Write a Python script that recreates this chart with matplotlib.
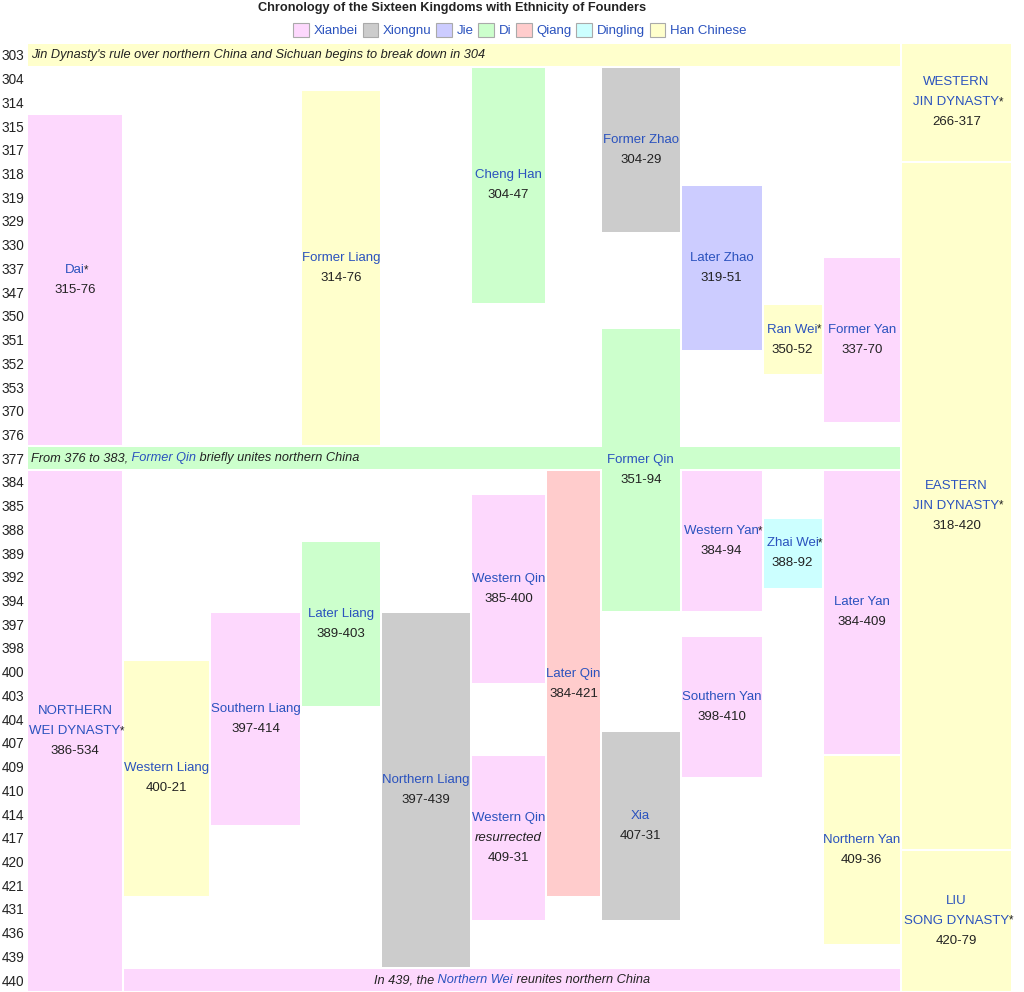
import numpy as np
import matplotlib
matplotlib.use("Agg")
import matplotlib.pyplot as plt
from matplotlib.patches import Rectangle, Patch
from matplotlib.offsetbox import TextArea, HPacker, AnnotationBbox

plt.rcParams['font.family'] = ['Liberation Sans', 'DejaVu Sans']

# row labels (one row per year listed)
years = [303, 304, 314, 315, 317, 318, 319, 329, 330, 337, 347, 350, 351, 352,
         353, 370, 376, 377, 384, 385, 388, 389, 392, 394, 397, 398, 400, 403,
         404, 407, 409, 410, 414, 417, 420, 421, 431, 436, 439, 440]

ethnic_names = ["Xianbei", "Xiongnu", "Jie", "Di", "Qiang", "Dingling", "Han Chinese"]
ethnic_colors = ["#fdd8fd", "#cccccc", "#ccccff", "#ccffcc", "#ffcccc", "#ccffff", "#ffffcc"]

# kingdoms
k_names = ["WESTERN\nJIN DYNASTY*", "EASTERN\nJIN DYNASTY*", "LIU\nSONG DYNASTY*",
           "Dai*", "NORTHERN\nWEI DYNASTY*", "Western Liang", "Southern Liang",
           "Former Liang", "Later Liang", "Northern Liang", "Cheng Han", "Western Qin",
           "Western Qin", "Later Qin", "Former Zhao", "Former Qin", "Xia", "Later Zhao",
           "Western Yan*", "Southern Yan", "Ran Wei*", "Zhai Wei*", "Former Yan",
           "Later Yan", "Northern Yan"]
k_notes = ["", "", "", "", "", "", "", "", "", "", "", "",
           "resurrected", "", "", "", "", "", "", "", "", "", "", "", ""]
k_dates = ["266-317", "318-420", "420-79", "315-76", "386-534", "400-21", "397-414",
           "314-76", "389-403", "397-439", "304-47", "385-400", "409-31", "384-421",
           "304-29", "351-94", "407-31", "319-51", "384-94", "398-410", "350-52",
           "388-92", "337-70", "384-409", "409-36"]
k_from = [303, 318, 420, 315, 384, 400, 397, 314, 389, 397, 304, 385, 409, 384,
          304, 351, 407, 319, 384, 398, 350, 388, 337, 384, 409]
k_to = [317, 417, 440, 376, 440, 421, 414, 376, 403, 439, 347, 400, 431, 421,
        329, 394, 431, 351, 394, 409, 352, 392, 370, 407, 436]
k_col = [12, 12, 12, 1, 1, 2, 3, 4, 4, 5, 6, 6, 6, 7, 8, 8, 8, 9, 9, 9, 10, 10, 11, 11, 11]
k_ethnic = ["Han Chinese", "Han Chinese", "Han Chinese", "Xianbei", "Xianbei",
            "Han Chinese", "Xianbei", "Han Chinese", "Di", "Xiongnu", "Di", "Xianbei",
            "Xianbei", "Qiang", "Xiongnu", "Di", "Xiongnu", "Jie", "Xianbei", "Xianbei",
            "Han Chinese", "Dingling", "Xianbei", "Xianbei", "Han Chinese"]

# event bands: (text, is_link) parts
band_parts = [
    [("Jin Dynasty's rule over northern China and Sichuan begins to break down in 304", False)],
    [("From 376 to 383,", False), (" Former Qin", True), (" briefly unites northern China", False)],
    [("In 439, the", False), (" Northern Wei", True), (" reunites northern China", False)],
]
band_year = [303, 377, 440]
band_cols = [(1, 11), (1, 11), (2, 11)]
band_ethnic = ["Han Chinese", "Di", "Xianbei"]
band_align = ["left", "left", "center"]

# layout
W, H = 1024, 992
COL_EDGES = [27, 123, 210, 301, 381, 471, 546, 601, 680.5, 762.5, 822.5, 901, 1012]
TOP = 43
ROW_PX = (H - TOP) / len(years)
DY = 1.0 / ROW_PX
LINE = 20.0 / ROW_PX
FS = 9.5
BLUE = "#2a52be"
DARK = "#222222"
col_of = dict(zip(ethnic_names, ethnic_colors))

fig = plt.figure(figsize=(W / 100, H / 100), dpi=100)
ax = fig.add_axes([27 / W, 0, (1012 - 27) / W, (H - TOP) / H])
ax.set_xlim(27, 1012)
ax.set_ylim(len(years), 0)
for s in ax.spines.values():
    s.set_visible(False)
ax.set_xticks([])
ax.set_yticks(np.arange(len(years)) + 0.5, labels=[str(y) for y in years])
ax.tick_params(axis='y', length=0, pad=2, labelsize=9.8, labelcolor=DARK)


def cell(c0, c1, r0, r1, color):
    x0 = COL_EDGES[c0 - 1] + 1
    x1 = COL_EDGES[c1] - 1
    ax.add_patch(Rectangle((x0, r0 + DY), x1 - x0, r1 - r0 - 2 * DY,
                           facecolor=color, lw=0))


# bands
for parts, yr, (c0, c1), eth, al in zip(band_parts, band_year, band_cols, band_ethnic, band_align):
    r = years.index(yr)
    cell(c0, c1, r, r + 1, col_of[eth])
    boxes = [TextArea(t, textprops=dict(color=BLUE if link else DARK, style='italic',
                                        fontsize=9.2)) for t, link in parts]
    pack = HPacker(children=boxes, pad=0, sep=0, align='baseline')
    if al == "left":
        xy, ba = (COL_EDGES[c0 - 1] + 4, r + 0.5), (0, 0.5)
    else:
        xy, ba = ((COL_EDGES[c0 - 1] + COL_EDGES[c1]) / 2, r + 0.5), (0.5, 0.5)
    ax.add_artist(AnnotationBbox(pack, xy, xycoords='data', frameon=False,
                                 box_alignment=ba, pad=0))

# kingdoms
for name, note, dates, y0, y1, c, eth in zip(k_names, k_notes, k_dates, k_from, k_to, k_col, k_ethnic):
    r0 = years.index(y0)
    r1 = years.index(y1) + 1
    cell(c, c, r0, r1, col_of[eth])
    star = name.endswith("*")
    lines = [(ln, BLUE, 'normal') for ln in name.rstrip("*").split("\n")]
    if note:
        lines.append((note, DARK, 'italic'))
    lines.append((dates, DARK, 'normal'))
    xc = (COL_EDGES[c - 1] + COL_EDGES[c]) / 2
    yc = (r0 + r1) / 2
    n = len(lines)
    last_name = None
    for i, (txt, colr, sty) in enumerate(lines):
        t = ax.text(xc, yc + (i - (n - 1) / 2) * LINE, txt, ha='center', va='center',
                    color=colr, style=sty, fontsize=FS)
        if colr == BLUE:
            last_name = t
    if star:
        ax.annotate("*", xy=(1, 1), xycoords=last_name, xytext=(-0.5, 0),
                    textcoords='offset points', ha='left', va='top',
                    color=DARK, fontsize=8.3)

# title and legend
fig.text(452 / W, 1 - 8 / H, "Chronology of the Sixteen Kingdoms with Ethnicity of Founders",
         ha='center', va='center', fontsize=9.2, weight='bold', color=DARK)
handles = [Patch(facecolor=c, edgecolor="#aaaaaa", lw=0.8) for c in ethnic_colors]
fig.legend(handles, ethnic_names, loc='center', bbox_to_anchor=(520 / W, 1 - 30 / H),
           ncol=7, frameon=False, fontsize=FS, labelcolor=BLUE, handlelength=1.2,
           handleheight=1.3, columnspacing=0.35, handletextpad=0.35, borderpad=0)

fig.savefig("out.png", dpi=100)
